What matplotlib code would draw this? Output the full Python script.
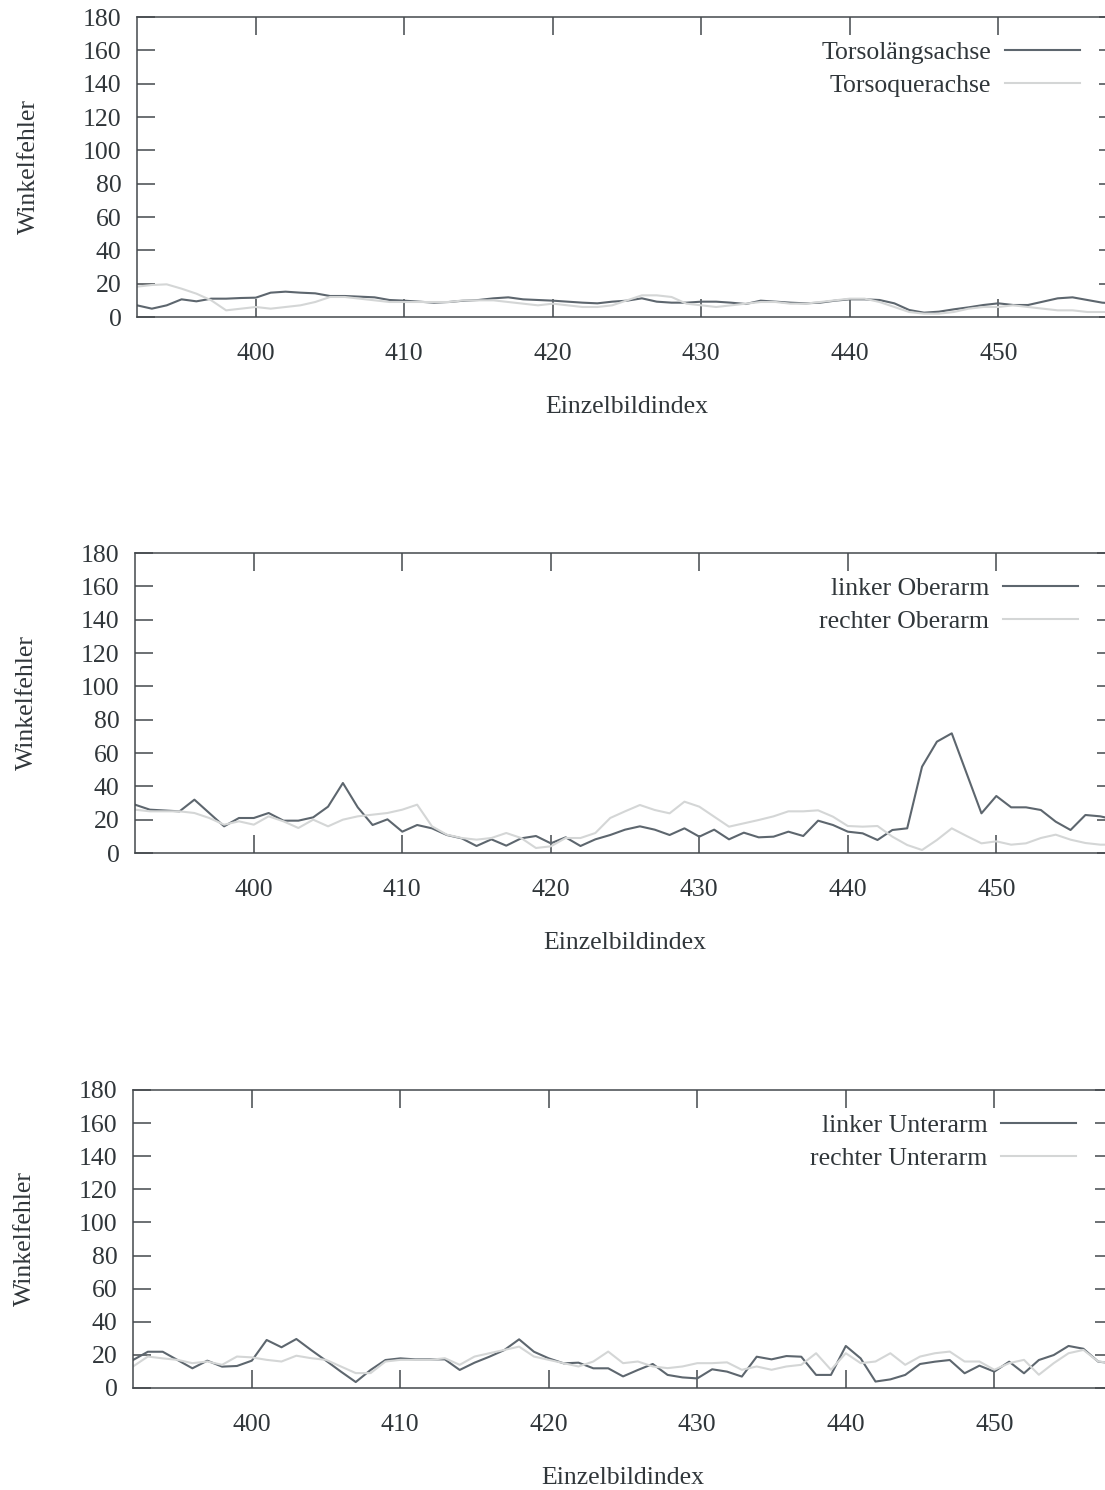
import matplotlib
matplotlib.use("Agg")
import matplotlib.pyplot as plt
import numpy as np

# frame index (x axis), shared by all three panels
frames = np.arange(392, 459)

torso_long = [7, 5, 7, 10.6, 9.4, 11, 11, 11.4, 11.6, 14.6, 15.2, 14.6, 14.2, 12.6, 12.6, 12.2, 11.8,
              10.2, 9.8, 9.2, 8.6, 9, 9.8, 10.2, 11.2, 11.8, 10.6, 10.2, 9.8, 9.2, 8.6, 8.2, 9.2,
              9.8, 11.2, 9.2, 8.6, 8.6, 9.2, 9.2, 8.6, 7.8, 9.8, 9.2, 8.6, 8.2, 8.6, 9.8, 10.6,
              10.6, 10.2, 8.2, 4.2, 2.6, 3.2, 4.6, 5.8, 7.2, 8.2, 7.2, 7.2, 9.2, 11.2, 11.8, 10.2,
              8.6, 8]
torso_cross = [18.2, 19.2, 19.6, 17, 14, 10, 4, 5, 6, 5, 6, 7, 9, 12, 12, 11, 10, 9, 9, 9, 9, 9,
               10, 10, 10, 9, 8, 7, 8, 7, 6, 6, 7, 10, 13, 13, 12, 8, 7, 6, 7, 8, 9, 9, 8, 8, 9,
               10, 11, 11, 9, 6, 3, 2, 2, 3, 5, 6, 6, 7, 6, 5, 4, 4, 3, 3, 3]

upper_left = [29, 26, 25.5, 25, 32, 24, 16, 21, 21, 24, 19.4, 19.4, 21.4, 27.8, 42, 27.4, 16.8,
              20.2, 12.8, 16.8, 14.8, 10.8, 8.8, 4.2, 8.2, 4.4, 8.8, 10.2, 5.8, 9.4, 4.2, 8.2,
              10.8, 14, 16, 14, 10.8, 14.8, 9.8, 14, 8.2, 12.2, 9.4, 9.8, 12.8, 10.2, 19.4, 16.8,
              12.8, 11.8, 7.8, 13.8, 14.8, 51.8, 66.8, 71.8, 47.8, 23.8, 34.2, 27.4, 27.4, 25.8,
              18.8, 13.8, 22.8, 22, 20]
upper_right = [26, 25, 25, 25, 24, 21, 17, 19, 17, 22, 19, 15, 20, 16, 20, 22, 23, 24, 26, 29, 16,
               11, 9, 8, 9, 12, 9, 3, 4, 9, 9, 12, 21, 25, 28.8, 25.8, 23.8, 30.8, 27.8, 21.8,
               15.8, 17.8, 19.8, 22, 25, 25, 25.6, 21.8, 16.2, 15.8, 16.2, 9.8, 4.8, 1.8, 7.8,
               14.8, 10.2, 5.8, 7, 5, 5.8, 9, 11, 8, 6, 5, 5]

lower_left = [16.9, 21.9, 21.9, 16.9, 11.9, 16.5, 12.9, 13.3, 16.5, 29, 24.6, 29.6, 22.9, 16.5,
              9.9, 3.6, 10.9, 16.9, 17.9, 17.3, 17.3, 17.3, 10.9, 15.3, 18.9, 22.9, 29.4, 21.9,
              17.9, 14.9, 15.3, 11.9, 11.9, 7, 10.9, 14.5, 7.9, 6.4, 5.8, 11.3, 9.9, 6.9, 18.9,
              17.3, 19.3, 18.9, 7.9, 7.9, 25.4, 17.9, 3.9, 5.2, 7.9, 14.5, 15.9, 16.9, 8.9, 13.5,
              9.9, 15.9, 8.9, 16.9, 19.9, 25.4, 23.7, 15.9, 15]
lower_right = [13, 19, 17.9, 17, 15, 16, 14, 19, 18.5, 17, 16, 19.5, 18, 17, 13, 9, 9, 16, 17, 17,
               17, 18, 14, 19, 21, 23, 25, 19, 17, 15, 13, 16, 22, 15, 16, 13, 12, 13, 15, 15,
               15.5, 11, 13, 11, 13, 14, 21, 11, 21, 15, 16, 21, 14, 19, 21, 22, 16, 16, 11, 15,
               17, 8, 15, 21, 23, 16, 15]

panels = [
    (("Torsolängsachse", torso_long), ("Torsoquerachse", torso_cross)),
    (("linker Oberarm", upper_left), ("rechter Oberarm", upper_right)),
    (("linker Unterarm", lower_left), ("rechter Unterarm", lower_right)),
]

x_ticks = [400, 410, 420, 430, 440, 450]
y_ticks = [0, 20, 40, 60, 80, 100, 120, 140, 160, 180]

text_col = "#30363a"
dark_col = "#5d666e"
light_col = "#d4d6d6"

plt.rcParams["font.family"] = ["Liberation Serif", "DejaVu Serif"]
plt.rcParams["font.size"] = 18.5

W, H = 1105, 1490
fig = plt.figure(figsize=(W / 100, H / 100), dpi=100)

# (left px, top px, bottom px) of each axes box, measured on the reference
boxes = [(137, 17, 317), (135, 553, 853), (133, 1090, 1388)]
px_per_unit = 14.85

for (left, top, bottom), ((lab1, s1), (lab2, s2)) in zip(boxes, panels):
    width = px_per_unit * (frames[-1] - frames[0])
    ax = fig.add_axes([left / W, 1 - bottom / H, width / W, (bottom - top) / H])
    ax.plot(frames, s1, color=dark_col, lw=1.5, label=lab1)
    ax.plot(frames, s2, color=light_col, lw=1.5, label=lab2)
    ax.set_xlim(frames[0], frames[-1])
    ax.set_ylim(0, 180)
    ax.set_xticks(x_ticks)
    ax.set_yticks(y_ticks)
    ax.tick_params(direction="in", length=13, width=1.1, color="#44494d",
                   top=True, right=True, labelcolor=text_col)
    ax.tick_params(axis="x", pad=19)
    ax.tick_params(axis="y", pad=11)
    for sp in ax.spines.values():
        sp.set_color("#44494d")
        sp.set_linewidth(1.1)
    ax.set_xlabel("Einzelbildindex", color=text_col, labelpad=22)
    ax.set_ylabel("Winkelfehler", color=text_col)
    ax.yaxis.set_label_coords(-0.099, 0.5)
    leg = ax.legend(loc="upper right", bbox_to_anchor=(0.962, 0.92), frameon=False,
                    markerfirst=False, handlelength=2.9, handletextpad=0.55,
                    labelspacing=0.38, borderaxespad=0, borderpad=0)
    for t in leg.get_texts():
        t.set_color(text_col)

fig.savefig("out.png", dpi=100)
